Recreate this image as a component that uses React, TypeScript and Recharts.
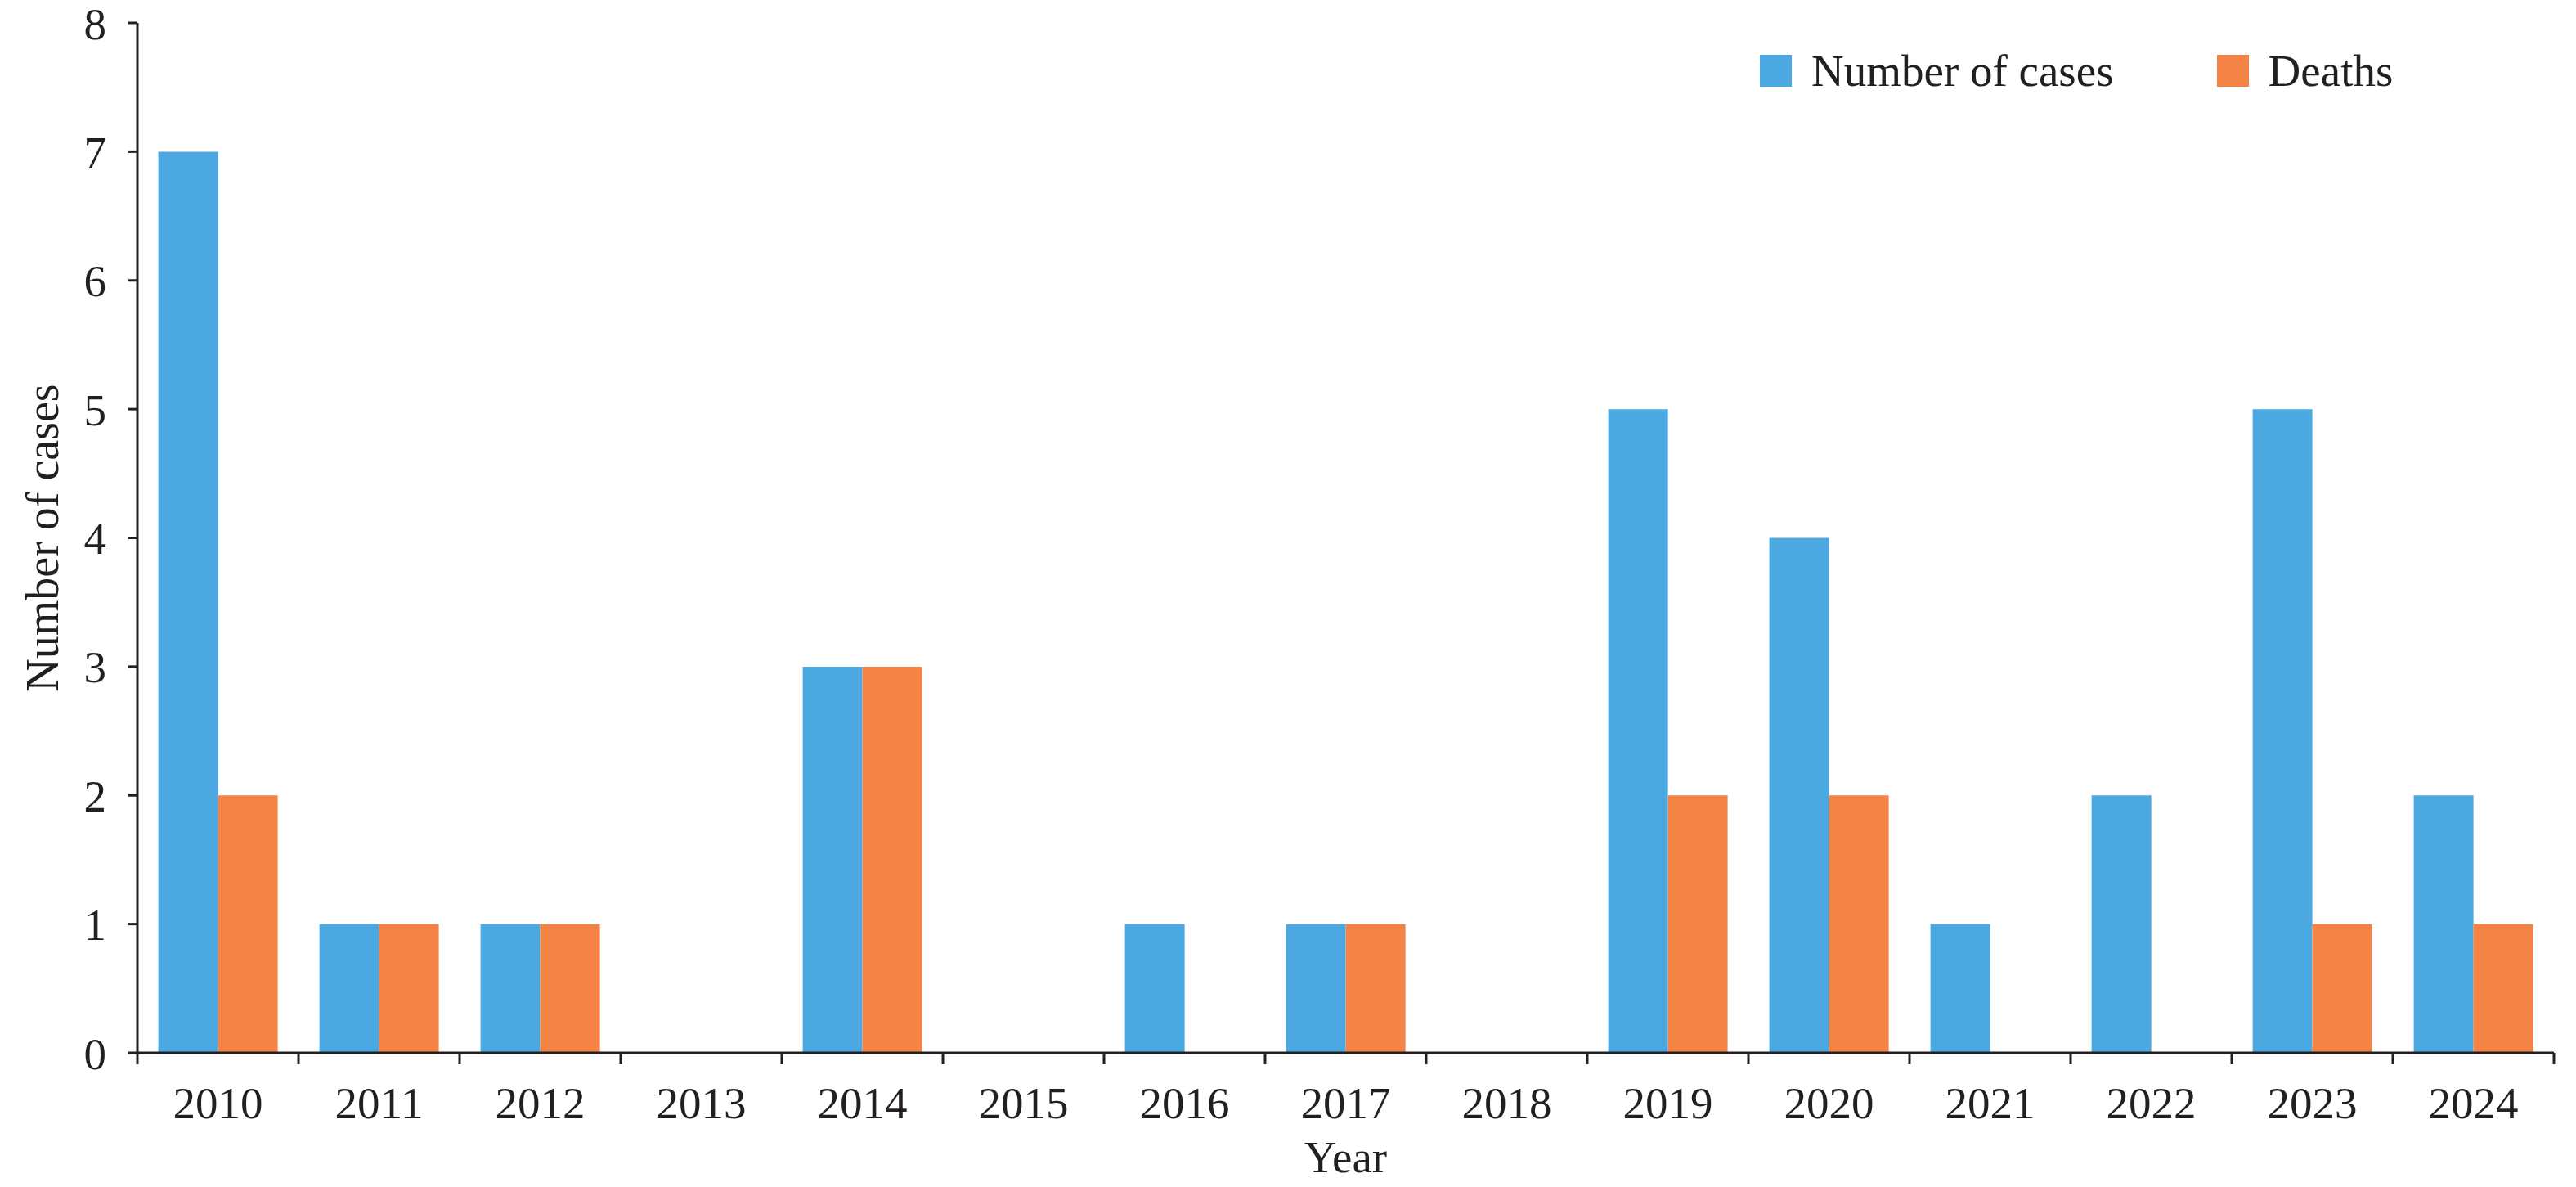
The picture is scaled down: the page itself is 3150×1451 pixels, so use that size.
import React from 'react';
import { BarChart, Bar, XAxis, YAxis, Legend, Label } from 'recharts';

const years = ['2010', '2011', '2012', '2013', '2014', '2015', '2016', '2017', '2018', '2019', '2020', '2021', '2022', '2023', '2024'];
const cases = [7, 1, 1, 0, 3, 0, 1, 1, 0, 5, 4, 1, 2, 5, 2];
const deaths = [2, 1, 1, 0, 3, 0, 0, 1, 0, 2, 2, 0, 0, 1, 1];
const yTicks = [0, 1, 2, 3, 4, 5, 6, 7, 8];
const seriesNames = ['Number of cases', 'Deaths'];
const seriesColors = ['#4ba8e0', '#f38445'];

const data = years.map((year, i) => ({ year, cases: cases[i], deaths: deaths[i] }));

const INK = '#231f20';
const FONT = '"Liberation Serif", "Times New Roman", serif';
const W = 3140;
const H = 1440;
const MARGIN = { top: 20, right: 25, left: 0, bottom: 0 };
const Y_AXIS_W = 160;
const PLOT_W = W - MARGIN.left - MARGIN.right - Y_AXIS_W;

const YearTick = (props: any) => {
  const { x, y, payload, index } = props;
  const band = PLOT_W / years.length;
  return (
    <g>
      <line x1={x - band / 2} x2={x - band / 2} y1={y} y2={y + 14} stroke={INK} strokeWidth={3} />
      {index === years.length - 1 && (
        <line x1={x + band / 2} x2={x + band / 2} y1={y} y2={y + 14} stroke={INK} strokeWidth={3} />
      )}
      <text x={x} y={y + 80} textAnchor="middle" fill={INK} fontSize={55} fontFamily={FONT}>
        {payload.value}
      </text>
    </g>
  );
};

const YTitle = (props: any) => {
  const vb = props.viewBox;
  const cx = vb.x + 44;
  const cy = vb.y + vb.height / 2;
  return (
    <text
      x={cx}
      y={cy}
      transform={`rotate(-90, ${cx}, ${cy})`}
      textAnchor="middle"
      dominantBaseline="central"
      fill={INK}
      fontSize={56}
      fontFamily={FONT}
    >
      Number of cases
    </text>
  );
};

const XTitle = (props: any) => {
  const vb = props.viewBox;
  return (
    <text x={vb.x + vb.width / 2} y={vb.y + 146} textAnchor="middle" fill={INK} fontSize={55} fontFamily={FONT}>
      Year
    </text>
  );
};

const LegendBox = () => (
  <div style={{ display: 'flex', alignItems: 'center', fontFamily: FONT, fontSize: 55, color: INK, whiteSpace: 'nowrap' }}>
    {seriesNames.map((name, i) => (
      <div key={name} style={{ display: 'flex', alignItems: 'center', marginRight: i === 0 ? 126 : 0 }}>
        <span style={{ display: 'inline-block', width: 39, height: 39, background: seriesColors[i], marginRight: 24 }} />
        <span>{name}</span>
      </div>
    ))}
  </div>
);

export default function App() {
  return (
    <div style={{ width: W, height: H }}>
      <BarChart width={W} height={H} data={data} margin={MARGIN} barCategoryGap="13%" barGap={0}>
        <XAxis
          dataKey="year"
          height={H - MARGIN.top - 1259}
          axisLine={{ stroke: INK, strokeWidth: 3 }}
          tickLine={false}
          tickSize={0}
          tickMargin={0}
          interval={0}
          tick={<YearTick />}
        >
          <Label content={<XTitle />} />
        </XAxis>
        <YAxis
          width={Y_AXIS_W}
          domain={[0, 8]}
          ticks={yTicks}
          interval={0}
          axisLine={{ stroke: INK, strokeWidth: 3 }}
          tickLine={{ stroke: INK, strokeWidth: 3 }}
          tickSize={11}
          tickMargin={27}
          tick={{ fill: INK, fontSize: 55, fontFamily: FONT }}
        >
          <Label content={<YTitle />} />
        </YAxis>
        <Legend
          layout="horizontal"
          verticalAlign="middle"
          align="center"
          wrapperStyle={{ top: 47, left: 2144, width: 'auto' }}
          content={<LegendBox />}
        />
        <Bar dataKey="cases" name={seriesNames[0]} fill={seriesColors[0]} isAnimationActive={false} />
        <Bar dataKey="deaths" name={seriesNames[1]} fill={seriesColors[1]} isAnimationActive={false} />
      </BarChart>
    </div>
  );
}
